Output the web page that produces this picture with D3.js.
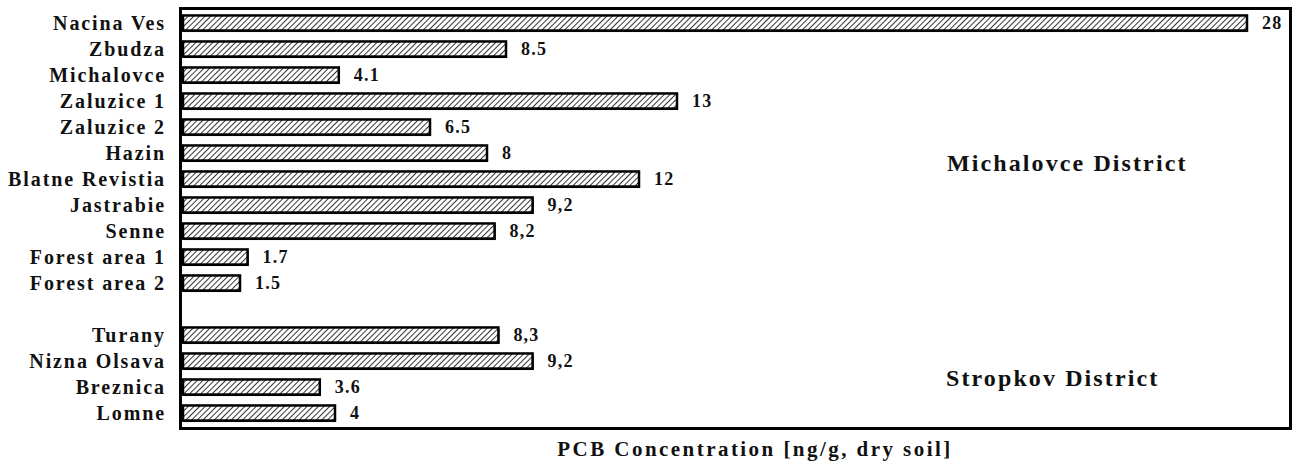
<!DOCTYPE html>
<html><head><meta charset="utf-8">
<script src="https://cdn.jsdelivr.net/npm/d3@7"></script>
<style>body{margin:0;background:#fff}svg{display:block}text{font-family:"Liberation Serif","Times New Roman",serif;font-weight:bold;fill:#111}</style>
</head><body>
<svg id="c" width="1297" height="463"></svg>
<script>
const categories = ["Nacina Ves","Zbudza","Michalovce","Zaluzice 1","Zaluzice 2","Hazin","Blatne Revistia","Jastrabie","Senne","Forest area 1","Forest area 2","Turany","Nizna Olsava","Breznica","Lomne"];
const values = [28, 8.5, 4.1, 13, 6.5, 8, 12, 9.2, 8.2, 1.7, 1.5, 8.3, 9.2, 3.6, 4];
const valueLabels = ["28","8.5","4.1","13","6.5","8","12","9,2","8,2","1.7","1.5","8,3","9,2","3.6","4"];
const districts = ["Michalovce District","Stropkov District"];
const axisTitle = "PCB Concentration [ng/g, dry soil]";

const svg = d3.select("#c");
const defs = svg.append("defs");
const pat = defs.append("pattern").attr("id","hatch").attr("patternUnits","userSpaceOnUse")
  .attr("width",4).attr("height",4).attr("patternTransform","rotate(45)");
pat.append("rect").attr("width",4).attr("height",4).attr("fill","#fff");
pat.append("line").attr("x1",0).attr("y1",0).attr("x2",0).attr("y2",4).attr("stroke","#2a2a2a").attr("stroke-width",1.9);

const slots = categories.slice(0,11).concat(["__gap__"]).concat(categories.slice(11));
const x = d3.scaleLinear().domain([0,28]).range([183,1247]);
const y = d3.scaleBand().domain(slots).range([10,426]).paddingInner(0.42).paddingOuter(0.21);

// frame
svg.append("rect").attr("x",180.5).attr("y",8.5).attr("width",1110).attr("height",420)
  .attr("fill","none").attr("stroke","#000").attr("stroke-width",3);

const data = categories.map((c,i)=>({c, v:values[i], l:valueLabels[i]}));
svg.selectAll("rect.shadow").data(data).join("rect").attr("class","shadow")
  .attr("x",x(0)).attr("y",d=>y(d.c)+1.5).attr("width",d=>x(d.v)-x(0)+1).attr("height",y.bandwidth())
  .attr("fill","#000");
svg.selectAll("rect.bar").data(data).join("rect").attr("class","bar")
  .attr("x",x(0)).attr("y",d=>y(d.c)).attr("width",d=>x(d.v)-x(0)).attr("height",y.bandwidth())
  .attr("fill","url(#hatch)").attr("stroke","#000").attr("stroke-width",2.5);

svg.selectAll("text.val").data(data).join("text").attr("class","val")
  .attr("x",d=>x(d.v)+15).attr("y",d=>y(d.c)+y.bandwidth()/2).attr("dy","0.36em")
  .attr("font-size",18).style("letter-spacing","1.2px").text(d=>d.l);

const yAxis = d3.axisLeft(y).tickSize(0).tickPadding(0).tickValues(categories);
const ga = svg.append("g").attr("transform","translate(166,0)").call(yAxis);
ga.select(".domain").remove();
ga.selectAll("text").attr("font-size",20).attr("dy","0.34em")
  .style("font-family",'"Liberation Serif",serif').style("font-weight","bold").style("letter-spacing","1.9px").attr("fill","#111");

svg.append("text").attr("x",947).attr("y",171).attr("font-size",24).style("letter-spacing","2.1px").text(districts[0]);
svg.append("text").attr("x",946).attr("y",386).attr("font-size",24).style("letter-spacing","2.1px").text(districts[1]);
svg.append("text").attr("x",755).attr("y",456).attr("text-anchor","middle").attr("font-size",21).style("letter-spacing","2.45px").text(axisTitle);
</script>
</body></html>
